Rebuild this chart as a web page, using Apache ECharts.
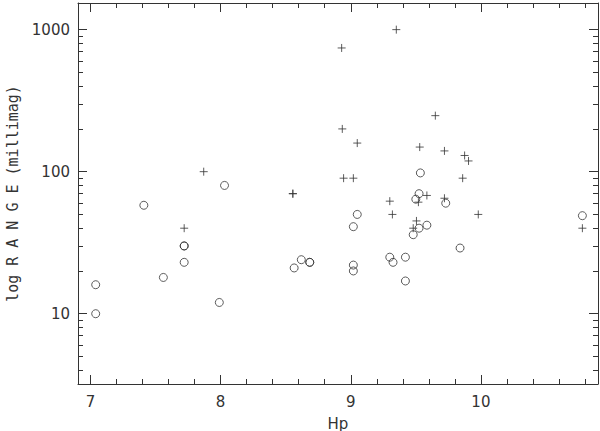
<!DOCTYPE html>
<html>
<head>
<meta charset="utf-8">
<script src="https://cdn.jsdelivr.net/npm/echarts@6/dist/echarts.min.js"></script>
<style>
  html, body { margin: 0; padding: 0; background: #fff; }
  #chart { width: 600px; height: 431px; }
</style>
</head>
<body>
<div id="chart"></div>
<script>
// circles
const hpCircle = [7.04, 7.04, 7.41, 7.72, 7.72, 7.72, 7.56, 7.99, 8.03, 8.565, 8.62, 8.685, 8.685,
  9.02, 9.05, 9.02, 9.02, 9.30, 9.325, 9.42, 9.42, 9.48, 9.525, 9.585, 9.84, 9.73, 9.535, 9.525, 9.50, 10.78]
const rangeCircle = [16, 10, 58, 30, 30, 23, 18, 12, 80, 21, 24, 23, 23,
  41, 50, 22, 20, 25, 23, 25, 17, 36, 40, 42, 29, 60, 98, 70, 64, 49]

// plus signs
const hpPlus = [7.87, 8.555, 8.555, 7.72, 9.35, 8.93, 9.65, 8.935, 9.05, 9.53, 9.72, 9.875, 9.905,
  8.945, 9.02, 9.86, 9.585, 9.30, 9.52, 9.72, 9.32, 9.98, 9.505, 9.48, 10.78]
const rangePlus = [100, 70, 70, 40, 1000, 743, 248, 200, 159, 149, 140, 130, 119,
  90, 90, 90, 68, 62, 61, 65, 50, 50, 45, 40, 40]

const xMin = 6.904
const xMax = 10.9
const yMin = 3.2
const yMax = 1540
const yLabels = [10, 100, 1000]

const ink = '#333'
const font = 'DejaVu Sans'
const tickLine = { color: ink, width: 1 }

// svg renderer: every tick becomes its own element
const chart = echarts.init(document.getElementById('chart'), null, { renderer: 'svg' })

function xAxisBase(pos) {
  return {
    type: 'value',
    position: pos,
    min: xMin,
    max: xMax,
    splitNumber: 4,
    splitLine: { show: false },
    axisLine: { show: true, onZero: false, lineStyle: { color: ink, width: 1 } },
    axisTick: { show: true, inside: true, length: 9, lineStyle: tickLine },
    minorTick: { show: true, splitNumber: 5, length: 5, lineStyle: tickLine },
  }
}

function yAxisBase(pos) {
  return {
    type: 'log',
    logBase: 10,
    position: pos,
    min: yMin,
    max: yMax,
    splitLine: { show: false },
    axisLine: { show: true, onZero: false, lineStyle: { color: ink, width: 1 } },
    axisTick: { show: true, inside: true, interval: 0, length: 9, lineStyle: tickLine },
    minorTick: { show: true, splitNumber: 9, length: 5, lineStyle: tickLine },
  }
}

const option = {
  animation: false,
  backgroundColor: '#fff',
  grid: { left: 78, right: 2, top: 3, bottom: 47, containLabel: false, outerBoundsMode: 'none' },
  xAxis: [
    Object.assign(xAxisBase('bottom'), {
      name: 'Hp',
      nameLocation: 'middle',
      nameGap: 32,
      nameTextStyle: { color: ink, fontFamily: font, fontSize: 15 },
      axisLabel: {
        color: ink, fontFamily: font, fontSize: 15, margin: 10,
        formatter: v => (Math.abs(v - Math.round(v)) < 1e-6 ? String(Math.round(v)) : ''),
      },
    }),
    Object.assign(xAxisBase('top'), { axisLabel: { show: false } }),
  ],
  yAxis: [
    Object.assign(yAxisBase('left'), {
      name: 'log R A N G E (millimag)',
      nameLocation: 'middle',
      nameGap: 58,
      nameTextStyle: { color: ink, fontFamily: 'DejaVu Sans Mono', fontSize: 15 },
      axisLabel: {
        color: ink, fontFamily: font, fontSize: 15, margin: 8,
        formatter: v => (yLabels.indexOf(Math.round(v)) >= 0 ? String(Math.round(v)) : ''),
      },
    }),
    Object.assign(yAxisBase('right'), { axisLabel: { show: false } }),
  ],
  series: [
    {
      name: 'circle',
      type: 'scatter',
      symbol: 'circle',
      symbolSize: 8,
      itemStyle: { color: 'transparent', borderColor: ink, borderWidth: 1 },
      data: hpCircle.map((h, i) => [h, rangeCircle[i]]),
    },
    {
      name: 'plus',
      type: 'scatter',
      symbol: 'path://M0,5L10,5M5,0L5,10',
      symbolSize: 8,
      itemStyle: { color: 'transparent', borderColor: ink, borderWidth: 1 },
      data: hpPlus.map((h, i) => [h, rangePlus[i]]),
    },
  ],
}

chart.setOption(option)
</script>
</body>
</html>
